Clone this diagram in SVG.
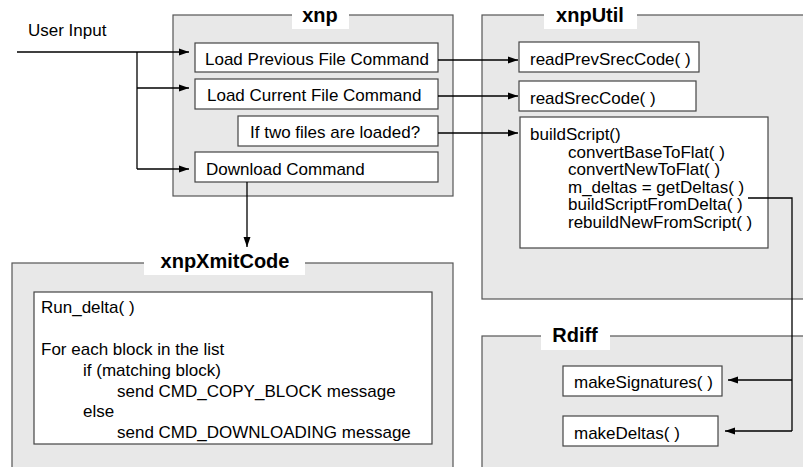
<svg xmlns="http://www.w3.org/2000/svg" width="803" height="467" viewBox="0 0 803 467">
<defs>
<marker id="ah" markerUnits="userSpaceOnUse" markerWidth="10" markerHeight="8" refX="10" refY="4" orient="auto">
<path d="M0,0.5 L10,4 L0,7.5 z" fill="#000"/>
</marker>
<style>
.cont{fill:#e8e8e8;stroke:#555;stroke-width:1.2}
.lab{fill:#fff;stroke:none}
.box{fill:#fff;stroke:#444;stroke-width:1.2}
.t{font-family:"Liberation Sans",Arial,sans-serif;font-size:17px;fill:#000}
.h{font-family:"Liberation Sans",Arial,sans-serif;font-size:20px;font-weight:bold;fill:#000;text-anchor:middle}
.c{fill:none;stroke:#000;stroke-width:1.3}
.ca{fill:none;stroke:#000;stroke-width:1.3;marker-end:url(#ah)}
</style>
</defs>
<rect width="803" height="467" fill="#fff"/>

<g id="xnp">
<rect class="cont" x="173" y="15" width="280" height="181"/>
<rect class="lab" x="292" y="2" width="57" height="27"/>
<text class="h" x="320" y="22">xnp</text>
</g>
<g id="loadPrev">
<rect class="box" x="195" y="43" width="243" height="29"/>
<text class="t" x="205" y="65">Load Previous File Command</text>
</g>
<g id="loadCur">
<rect class="box" x="195" y="79" width="243" height="30"/>
<text class="t" x="207" y="101">Load Current File Command</text>
</g>
<g id="ifTwo">
<rect class="box" x="238" y="116" width="200" height="30"/>
<text class="t" x="250" y="138">If two files are loaded?</text>
</g>
<g id="download">
<rect class="box" x="195" y="152" width="243" height="30"/>
<text class="t" x="206" y="175">Download Command</text>
</g>

<g id="xnpUtil">
<rect class="cont" x="482" y="15" width="330" height="284"/>
<rect class="lab" x="544" y="2" width="93" height="27"/>
<text class="h" x="590" y="22">xnpUtil</text>
</g>
<g id="readPrev">
<rect class="box" x="519" y="42" width="180" height="30"/>
<text class="t" x="530" y="65">readPrevSrecCode( )</text>
</g>
<g id="readSrec">
<rect class="box" x="519" y="81" width="177" height="30"/>
<text class="t" x="530" y="104">readSrecCode( )</text>
</g>
<g id="buildScript">
<rect class="box" x="520" y="117" width="248" height="131"/>
<text class="t" x="530" y="140">buildScript()</text>
<text class="t" x="568" y="157.5">convertBaseToFlat( )</text>
<text class="t" x="568" y="175">convertNewToFlat( )</text>
<text class="t" x="568" y="192.5">m_deltas = getDeltas( )</text>
<text class="t" x="568" y="210">buildScriptFromDelta( )</text>
<text class="t" x="568" y="227.5">rebuildNewFromScript( )</text>
</g>

<g id="Rdiff">
<rect class="cont" x="482" y="336" width="330" height="140"/>
<rect class="lab" x="541" y="326" width="69" height="24"/>
<text class="h" x="575" y="342">Rdiff</text>
</g>
<g id="makeSig">
<rect class="box" x="563" y="366" width="159" height="30"/>
<text class="t" x="574" y="388">makeSignatures( )</text>
</g>
<g id="makeDel">
<rect class="box" x="563" y="416" width="155" height="30"/>
<text class="t" x="574" y="439">makeDeltas( )</text>
</g>

<g id="xnpXmitCode">
<rect class="cont" x="12" y="263" width="441" height="215"/>
<rect class="lab" x="144" y="250" width="161" height="25"/>
<text class="h" x="225" y="268">xnpXmitCode</text>
</g>
<g id="runDelta">
<rect class="box" x="34" y="292" width="398" height="152"/>
<text class="t" x="41" y="313">Run_delta( )</text>
<text class="t" x="41" y="355">For each block in the list</text>
<text class="t" x="83" y="376">if (matching block)</text>
<text class="t" x="117" y="397">send CMD_COPY_BLOCK message</text>
<text class="t" x="83" y="417">else</text>
<text class="t" x="117" y="438">send CMD_DOWNLOADING message</text>
</g>

<g id="userInput">
<text class="t" x="28" y="36">User Input</text>
</g>

<g id="connectors">
<path class="ca" d="M17,52 H189"/>
<path class="c" d="M137,52 V169"/>
<path class="ca" d="M137,88 H189"/>
<path class="ca" d="M137,169 H189"/>
<path class="ca" d="M438,60 H518"/>
<path class="ca" d="M438,96 H518"/>
<path class="ca" d="M438,133 H518"/>
<path class="ca" d="M247,182 V247"/>
<path class="c" d="M748,198 H792 V431"/>
<path class="ca" d="M792,380 H728"/>
<path class="ca" d="M792,431 H725"/>
</g>
</svg>
